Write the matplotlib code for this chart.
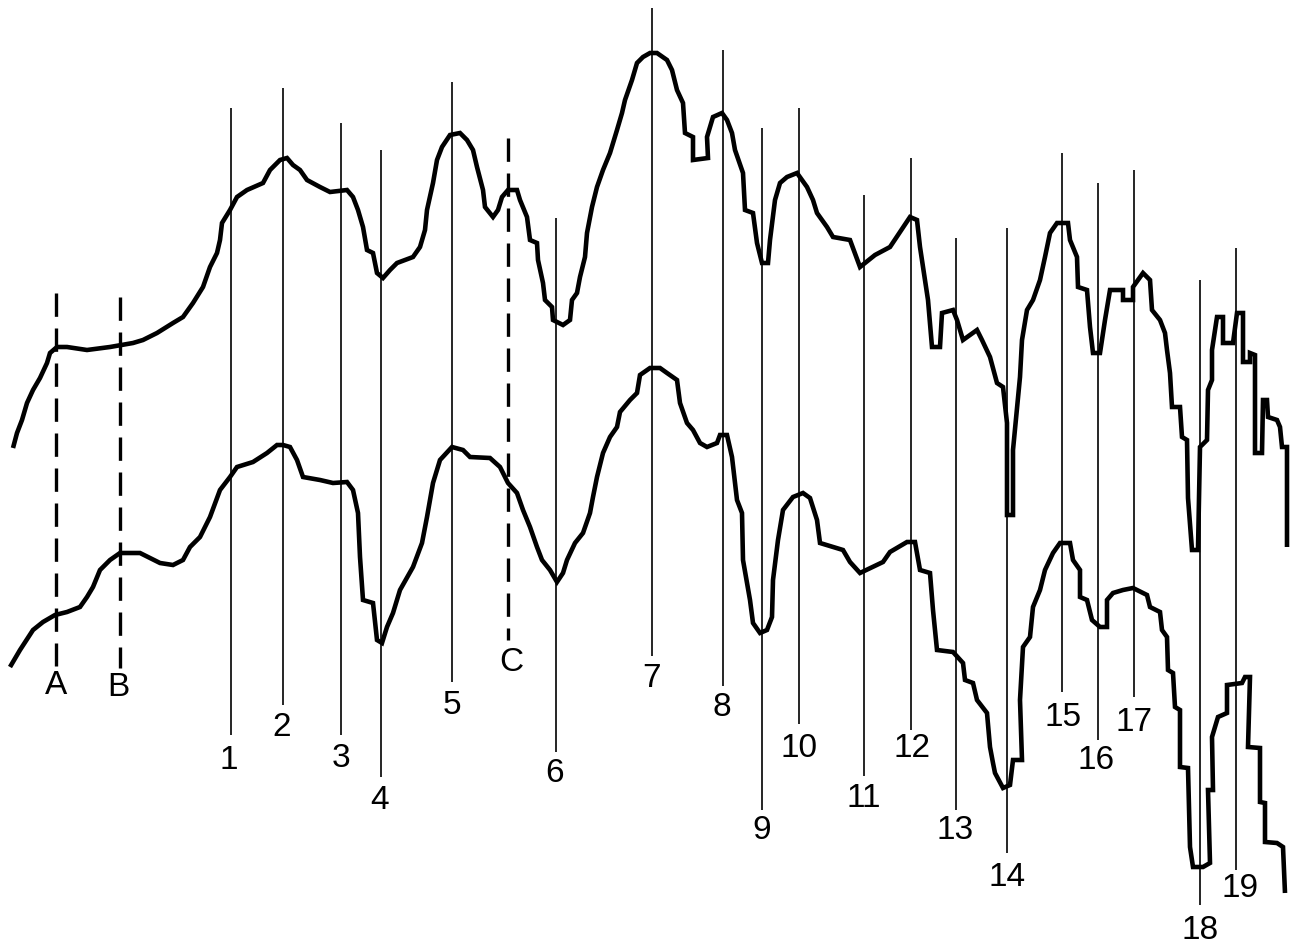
import matplotlib
matplotlib.use("Agg")
import matplotlib.pyplot as plt

# ---- data (image-pixel units) ----
upper_x = [13, 17, 22, 27, 33, 40, 47, 50, 57, 67, 87, 110, 133, 143, 157, 173, 183, 193, 203, 210, 217, 220, 222, 230,
           237, 247, 263, 270, 280, 287, 293, 300, 307, 320, 330, 347, 353, 358, 363, 367, 373, 377, 383, 390, 397, 413,
           420, 425, 427, 433, 437, 442, 450, 460, 467, 473, 477, 483, 485, 493, 498, 502, 508, 517, 520, 527, 530, 537,
           538, 543, 545, 552, 553, 563, 570, 572, 577, 580, 585, 587, 592, 597, 603, 610, 617, 622, 625, 632, 637, 643,
           650, 657, 667, 672, 677, 683, 685, 693, 693, 708, 707, 713, 722, 727, 732, 735, 743, 745, 753, 757, 762, 768,
           770, 775, 780, 787, 797, 807, 813, 817, 827, 833, 850, 860, 875, 890, 900, 910, 917, 920, 928, 932, 940, 942,
           953, 957, 963, 977, 982, 990, 997, 1003, 1007, 1007, 1013, 1013, 1020, 1022, 1027, 1033, 1040, 1045, 1050,
           1057, 1068, 1070, 1077, 1078, 1087, 1090, 1093, 1100, 1105, 1110, 1123, 1123, 1133, 1133, 1143, 1150, 1152,
           1160, 1165, 1167, 1170, 1172, 1180, 1182, 1187, 1188, 1192, 1198, 1200, 1207, 1208, 1212, 1212, 1217, 1223,
           1223, 1233, 1237, 1243, 1243, 1250, 1250, 1255, 1255, 1262, 1263, 1267, 1268, 1277, 1280, 1282, 1287, 1287]
upper_y = [448, 433, 420, 403, 390, 378, 363, 353, 347, 347, 350, 347, 343, 340, 333, 323, 317, 303, 287, 267, 253, 240,
           223, 210, 197, 190, 183, 170, 160, 158, 165, 170, 180, 187, 192, 190, 197, 210, 227, 250, 253, 273, 278, 270,
           263, 257, 247, 230, 210, 183, 160, 147, 135, 133, 140, 150, 167, 190, 207, 217, 210, 197, 190, 190, 200, 217,
           240, 243, 260, 283, 300, 307, 320, 325, 320, 300, 293, 277, 257, 233, 207, 187, 170, 153, 130, 113, 100, 80,
           63, 57, 53, 53, 60, 70, 90, 103, 133, 137, 160, 158, 137, 117, 113, 120, 133, 150, 173, 210, 213, 243, 263,
           263, 240, 200, 183, 177, 173, 187, 200, 213, 227, 237, 240, 267, 255, 247, 232, 217, 220, 247, 300, 347, 347,
           313, 310, 320, 340, 330, 340, 357, 383, 387, 423, 515, 515, 450, 377, 340, 310, 300, 280, 257, 233, 223, 223,
           240, 257, 287, 290, 327, 353, 353, 320, 290, 290, 300, 300, 287, 273, 280, 310, 320, 333, 350, 373, 407, 407,
           437, 440, 498, 550, 550, 447, 440, 390, 380, 350, 317, 317, 343, 343, 313, 313, 362, 362, 353, 355, 453, 453,
           400, 400, 417, 420, 427, 447, 447, 547]

lower_x = [10, 20, 33, 43, 55, 67, 80, 87, 93, 100, 110, 120, 140, 160, 173, 183, 190, 200, 210, 220, 230, 237, 253, 267,
           277, 283, 290, 297, 303, 320, 333, 347, 353, 358, 360, 363, 373, 377, 382, 387, 393, 400, 413, 422, 427, 433,
           440, 452, 463, 470, 490, 500, 508, 517, 523, 530, 537, 542, 550, 557, 563, 567, 575, 583, 590, 593, 597, 603,
           610, 617, 620, 630, 637, 640, 650, 660, 667, 677, 680, 687, 693, 700, 707, 717, 720, 727, 732, 737, 742, 743,
           750, 753, 760, 767, 772, 773, 778, 783, 793, 803, 810, 817, 820, 843, 850, 860, 883, 890, 907, 915, 920, 930,
           933, 937, 953, 963, 965, 973, 977, 987, 990, 993, 995, 1003, 1010, 1013, 1022, 1020, 1023, 1030, 1033, 1040,
           1045, 1053, 1060, 1070, 1073, 1080, 1080, 1087, 1092, 1100, 1107, 1107, 1113, 1123, 1133, 1147, 1150, 1160,
           1162, 1167, 1168, 1173, 1175, 1180, 1180, 1188, 1190, 1193, 1203, 1210, 1208, 1213, 1212, 1218, 1227, 1227,
           1242, 1245, 1250, 1248, 1260, 1260, 1265, 1265, 1277, 1283, 1285]
lower_y = [667, 650, 630, 622, 615, 612, 607, 597, 587, 570, 560, 553, 553, 563, 565, 560, 547, 537, 517, 490, 477, 467,
           462, 453, 445, 445, 447, 460, 477, 480, 483, 482, 490, 513, 557, 600, 603, 640, 643, 627, 613, 590, 567, 543,
           517, 483, 460, 447, 450, 457, 458, 467, 483, 493, 510, 527, 547, 560, 570, 582, 573, 560, 543, 533, 513, 497,
           477, 453, 437, 427, 412, 400, 393, 375, 368, 368, 373, 380, 403, 423, 430, 443, 447, 443, 435, 435, 457, 500,
           513, 560, 600, 623, 633, 630, 617, 580, 540, 510, 497, 493, 498, 520, 543, 550, 562, 573, 562, 552, 542, 542,
           570, 573, 610, 650, 652, 663, 680, 683, 700, 713, 747, 763, 773, 788, 785, 760, 760, 700, 647, 637, 607, 590,
           570, 553, 543, 543, 560, 570, 597, 600, 620, 627, 627, 600, 593, 590, 588, 595, 607, 612, 630, 637, 670, 673,
           707, 710, 767, 768, 847, 867, 867, 863, 790, 790, 737, 717, 713, 685, 683, 677, 677, 747, 748, 802, 803, 842,
           843, 847, 893]

# numbered reference lines
num_labels = ["1", "2", "3", "4", "5", "6", "7", "8", "9", "10",
              "11", "12", "13", "14", "15", "16", "17", "18", "19"]
num_x = [231, 283, 341, 381, 452, 556, 652, 723, 762, 799, 864, 911, 956, 1007, 1062, 1098, 1134, 1200, 1236]
num_top = [108, 88, 123, 150, 82, 218, 8, 50, 128, 108, 195, 158, 238, 228, 153, 183, 170, 280, 248]
num_bottom = [735, 705, 735, 777, 682, 752, 656, 686, 810, 724, 776, 730, 810, 853, 692, 740, 697, 905, 870]
num_label_x = [229, 282, 341, 380, 452, 555, 652, 722, 762, 799, 864, 912, 955, 1007, 1063, 1096, 1134, 1200, 1240]
num_label_y = [760, 727, 758, 800, 705, 773, 678, 707, 830, 748, 798, 748, 830, 877, 717, 760, 722, 930, 888]

# dashed reference lines
dash_labels = ["A", "B", "C"]
dash_x = [56, 120, 508]
dash_top = [293, 297, 138]
dash_bottom = [666, 668, 640]
dash_label_x = [56, 118, 511]
dash_label_y = [685, 687, 662]

# ---- plot ----
W, H = 1291, 946
fig = plt.figure(figsize=(W / 100, H / 100), dpi=100)
ax = fig.add_axes([0, 0, 1, 1])
ax.set_xlim(0, W)
ax.set_ylim(H, 0)
ax.axis("off")

font = dict(family=["Liberation Sans", "DejaVu Sans"], fontsize=24, color="black")

for x, t, b, lab, lx, ly in zip(num_x, num_top, num_bottom, num_labels, num_label_x, num_label_y):
    ax.plot([x, x], [t, b], color="black", lw=1.2, solid_capstyle="butt")
    ax.text(lx, ly, lab, ha="center", va="center", **font)

for x, t, b, lab, lx, ly in zip(dash_x, dash_top, dash_bottom, dash_labels, dash_label_x, dash_label_y):
    ax.plot([x, x], [t, b], color="black", lw=2.4, linestyle=(0, (7, 3.5)), dash_capstyle="butt")
    ax.text(lx, ly, lab, ha="center", va="center", **font)

ax.plot(upper_x, upper_y, color="black", lw=3.3, solid_joinstyle="miter", solid_capstyle="butt")
ax.plot(lower_x, lower_y, color="black", lw=3.3, solid_joinstyle="miter", solid_capstyle="butt")

fig.savefig("out.png", dpi=100, facecolor="white")
